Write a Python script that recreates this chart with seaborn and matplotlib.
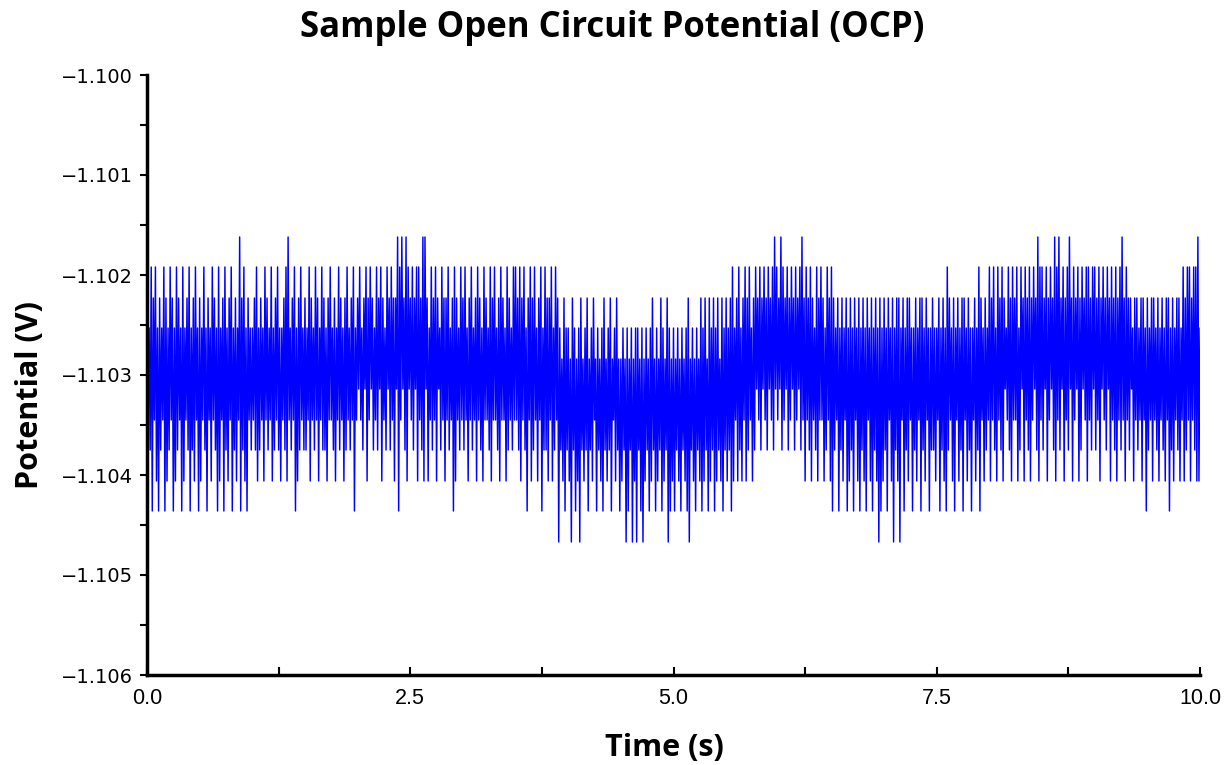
import numpy as np
import pandas as pd
import matplotlib
matplotlib.use("Agg")
import matplotlib.pyplot as plt
from matplotlib.ticker import MultipleLocator, FuncFormatter
import seaborn as sns

# quantised potential levels seen in the trace (V), code 0 = highest, code a = lowest
levels = [-1.10162, -1.10192, -1.10223, -1.10253, -1.10284, -1.10314,
          -1.10345, -1.10375, -1.10406, -1.10436, -1.10467]

# level codes, one char per 10 ms sample, 0.5 s per string
seg_00 = "06 37 19 26 18 39 27 36 19 28 37 16 29 38 17 26 39 18 36 27 19 37 28 16 39"
seg_01 = "28 36 17 39 26 38 16 27 39 18 36 29 17 38 26 19 37 28 36 09 27 18 39 26 37"
seg_02 = "36 27 18 37 26 38 16 27 36 18 37 26 17 38 36 27 18 06 37 26 19 38 27 16 37"
seg_03 = "27 36 18 26 37 16 28 36 17 27 38 26 16 37 28 36 17 26 38 27 16 37 26 19 36"
seg_04 = "25 16 37 25 18 26 15 27 36 17 25 18 26 37 15 27 16 28 25 09 16 05 27 08 15"
seg_05 = "26 17 25 18 16 27 08 05 28 36 17 26 18 25 37 16 28 26 17 36 29 18 26 37 16"
seg_06 = "27 16 38 26 17 36 28 16 27 38 16 26 37 18 26 16 37 28 16 26 38 17 26 37 16"
seg_07 = "16 27 18 26 17 39 26 18 27 16 38 26 19 37 17 28 26 18 37 16 2a 37 48 29 37"
seg_08 = "38 4a 27 39 48 3a 27 48 37 29 47 38 26 49 37 48 39 27 48 37 29 46 38 27 49"
seg_09 = "48 37 4a 39 47 3a 48 3a 37 49 3a 48 37 49 38 27 49 38 47 29 38 47 2a 39 48"
seg_10 = "39 47 38 49 37 48 39 2a 47 38 49 37 48 29 38 27 49 28 37 29 38 27 48 29 37"
seg_11 = "28 37 29 18 36 28 17 38 26 18 27 16 38 27 15 26 17 25 16 27 15 26 17 05 16"
seg_12 = "25 07 16 25 17 26 15 27 16 25 17 06 28 16 27 18 26 37 18 26 16 28 37 16 28"
seg_13 = "19 27 36 29 37 28 36 29 38 27 39 26 38 29 37 28 39 26 38 29 37 28 3a 29 38"
seg_14 = "27 39 26 38 2a 37 28 2a 36 29 37 28 26 39 37 28 36 29 27 38 26 39 37 27 38"
seg_15 = "36 29 37 28 39 17 26 38 29 36 28 37 29 26 38 27 39 36 28 37 19 26 38 27 36"
seg_16 = "18 26 17 38 16 27 18 25 36 17 28 16 26 18 37 15 28 16 27 18 26 15 27 08 16"
seg_17 = "17 25 18 26 15 27 08 16 07 25 18 26 17 05 28 16 25 18 27 15 26 18 16 27 15"
seg_18 = "17 26 18 25 16 27 15 28 16 27 18 26 17 06 28 16 27 25 38 26 27 36 28 26 39"
seg_19 = "27 36 28 26 37 28 36 27 38 26 29 37 28 36 27 28 36 18 27 16 18 26 17 18 08"
last_code = "3"
sample_dt = 0.01  # s

segments = [seg_00, seg_01, seg_02, seg_03, seg_04, seg_05, seg_06, seg_07, seg_08, seg_09,
            seg_10, seg_11, seg_12, seg_13, seg_14, seg_15, seg_16, seg_17, seg_18, seg_19]
codes = "".join("".join(s.split()) for s in segments) + last_code
potential = [levels[int(c, 16)] for c in codes]
time = np.arange(len(codes)) * sample_dt
df = pd.DataFrame({"time": time, "potential": potential})

sns.set_theme(style="white")
plt.rcParams["font.family"] = ["Open Sans", "DejaVu Sans"]
plt.rcParams["text.color"] = "black"

fig = plt.figure(figsize=(12.28, 7.65), dpi=100)
ax = fig.add_axes([147 / 1228, 1 - 675 / 765, 1053 / 1228, 600 / 765])
sns.lineplot(data=df, x="time", y="potential", ax=ax, color="#0000ff",
             linewidth=1.05, estimator=None, sort=False)

ax.set_xlim(0, 10)
ax.set_ylim(-1.106, -1.100)
ax.xaxis.set_major_locator(MultipleLocator(2.5))
ax.xaxis.set_minor_locator(MultipleLocator(1.25))
ax.yaxis.set_major_locator(MultipleLocator(0.001))
ax.yaxis.set_minor_locator(MultipleLocator(0.0005))
ax.xaxis.set_major_formatter(FuncFormatter(lambda v, p: f"{v:.1f}"))
ax.yaxis.set_major_formatter(FuncFormatter(lambda v, p: f"{v:.3f}".replace("-", "\u2212")))

for side in ["top", "right"]:
    ax.spines[side].set_visible(False)
for side in ["left", "bottom"]:
    ax.spines[side].set_linewidth(2.5)
    ax.spines[side].set_color("black")

ax.tick_params(axis="y", which="both", direction="out", length=5, width=1.5,
               colors="black", labelsize=14, pad=5, left=True,
               labelfontfamily="DejaVu Sans")
ax.tick_params(axis="x", which="both", direction="in", length=6, width=1.5,
               colors="black", labelsize=15.5, pad=9, bottom=True,
               labelfontfamily="Liberation Sans")

ax.set_xlabel("")
ax.set_ylabel("")
fig.text(612 / 1228, 1 - 28 / 765, "Sample Open Circuit Potential (OCP)",
         ha="center", va="center", fontsize=25, fontweight="bold", color="black")
fig.text(30 / 1228, 1 - 395 / 765, "Potential (V)", rotation=90,
         ha="center", va="center", fontsize=22, fontweight="bold", color="black")
fig.text(664 / 1228, 1 - 748 / 765, "Time (s)",
         ha="center", va="center", fontsize=22, fontweight="bold", color="black")

fig.savefig("out.png", dpi=100, facecolor="white")
